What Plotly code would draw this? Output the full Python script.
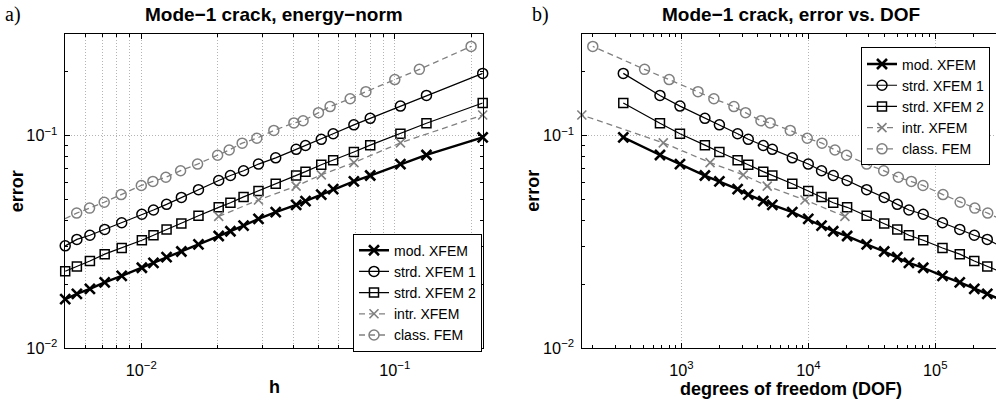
import plotly.graph_objects as go

# ---------------- data ----------------
series_names = ["mod. XFEM", "strd. XFEM 1", "strd. XFEM 2", "intr. XFEM", "class. FEM"]

# mesh sizes / DOFs shared by the XFEM variants (h ascending)
h_xfem = [0.00501, 0.00557, 0.00627, 0.00717, 0.00837, 0.01005, 0.01117, 0.01258,
          0.01439, 0.01681, 0.02020, 0.02247, 0.02532, 0.02899, 0.03390, 0.04082,
          0.04444, 0.05128, 0.05714, 0.06897, 0.08000, 0.10526, 0.13333, 0.22222]
dof_xfem = [322000, 257000, 203000, 156000, 114000, 80400, 62000, 50200,
            39600, 28800, 20200, 15700, 12700, 9980, 7470, 5200,
            4410, 3360, 2770, 1990, 1530, 973, 677, 348]

err_mod = [0.0170, 0.0180, 0.0190, 0.0204, 0.0219, 0.0239, 0.0252, 0.0268,
           0.0285, 0.0308, 0.0337, 0.0355, 0.0377, 0.0406, 0.0437, 0.0472,
           0.0492, 0.0528, 0.0560, 0.0609, 0.0649, 0.0735, 0.0811, 0.0982]
err_strd1 = [0.0303, 0.0325, 0.0340, 0.0362, 0.0389, 0.0427, 0.0447, 0.0475,
             0.0512, 0.0557, 0.0615, 0.0649, 0.0684, 0.0735, 0.0786, 0.0862,
             0.0899, 0.0961, 0.1021, 0.1124, 0.1206, 0.1377, 0.1546, 0.1963]
err_strd2 = [0.0230, 0.0242, 0.0257, 0.0277, 0.0296, 0.0322, 0.0340, 0.0362,
             0.0386, 0.0420, 0.0460, 0.0483, 0.0515, 0.0549, 0.0594, 0.0649,
             0.0677, 0.0730, 0.0766, 0.0838, 0.0902, 0.1021, 0.1143, 0.1424]

h_intr = [0.0202, 0.0290, 0.0408, 0.0513, 0.0690, 0.1053, 0.2222]
dof_intr = [19400, 9400, 4740, 3070, 1680, 719, 164]
err_intr = [0.0417, 0.0498, 0.0579, 0.0654, 0.0747, 0.0925, 0.1250]

h_fem = [0.00500, 0.00556, 0.00625, 0.00714, 0.00833, 0.01000, 0.01111, 0.01250,
         0.01429, 0.01667, 0.02000, 0.02222, 0.02500, 0.02857, 0.03333, 0.04000,
         0.04348, 0.05000, 0.05556, 0.06667, 0.07692, 0.10000, 0.12500, 0.20000]
dof_fem = [320000, 259000, 205000, 157000, 115000, 80000, 64800, 51200,
           39200, 28800, 20000, 16200, 12800, 9800, 7200, 5000,
           4230, 3200, 2590, 1800, 1350, 800, 512, 200]
err_fem = [0.0407, 0.0432, 0.0456, 0.0486, 0.0528, 0.0583, 0.0609, 0.0637,
           0.0684, 0.0735, 0.0809, 0.0856, 0.0922, 0.0972, 0.1058, 0.1148,
           0.1175, 0.1283, 0.1370, 0.1491, 0.1610, 0.1835, 0.2050, 0.2630]

# ---------------- styling ----------------
W, H = 996, 410
BLACK = "#000000"
GRAY = "#808080"
DASH = "6px,4px"
FONT = "Liberation Sans, Arial, Helvetica, sans-serif"

styles = [
    dict(color=BLACK, width=2.4, dash="solid", symbol="x-thin-open", size=10, mlw=2.6),
    dict(color=BLACK, width=1.2, dash="solid", symbol="circle-open", size=10, mlw=1.5),
    dict(color=BLACK, width=1.2, dash="solid", symbol="square-open", size=9, mlw=1.5),
    dict(color=GRAY, width=1.3, dash=DASH, symbol="x-thin-open", size=9, mlw=1.6),
    dict(color=GRAY, width=1.3, dash=DASH, symbol="circle-open", size=10, mlw=1.5),
]

left_data = [(h_xfem, err_mod), (h_xfem, err_strd1), (h_xfem, err_strd2),
             (h_intr, err_intr), (h_fem, err_fem)]
right_data = [(dof_xfem, err_mod), (dof_xfem, err_strd1), (dof_xfem, err_strd2),
              (dof_intr, err_intr), (dof_fem, err_fem)]

fig = go.Figure()

for (xs, ys), name, st in zip(left_data, series_names, styles):
    fig.add_trace(go.Scatter(
        x=xs, y=ys, name=name, mode="lines+markers",
        xaxis="x", yaxis="y", legend="legend", cliponaxis=False,
        line=dict(color=st["color"], width=st["width"], dash=st["dash"]),
        marker=dict(symbol=st["symbol"], size=st["size"], color=st["color"],
                    line=dict(color=st["color"], width=st["mlw"])),
    ))

for (xs, ys), name, st in zip(right_data, series_names, styles):
    fig.add_trace(go.Scatter(
        x=xs, y=ys, name=name, mode="lines+markers",
        xaxis="x2", yaxis="y2", legend="legend2", cliponaxis=False,
        line=dict(color=st["color"], width=st["width"], dash=st["dash"]),
        marker=dict(symbol=st["symbol"], size=st["size"], color=st["color"],
                    line=dict(color=st["color"], width=st["mlw"])),
    ))

# pixel geometry of the two axes boxes
L1, R1 = 65.0, 482.7
L2, R2 = 581.7, 996.0
TOP, BOT = 35.0, 356.0
px = lambda v: v / W
py = lambda v: 1 - v / H

grid_col = "#b4b4b4"
GDASH = "1px,2px"
tickfont = dict(family=FONT, size=13, color=BLACK)

common_axis = dict(
    type="log", showline=True, linecolor=BLACK, linewidth=1,
    ticks="inside", ticklen=5, tickwidth=1, tickcolor=BLACK,
    dtick=1, exponentformat="power", showexponent="all",
    tickfont=tickfont, zeroline=False,
    showgrid=True, gridcolor=grid_col, griddash=GDASH, gridwidth=1,
)

fig.update_layout(
    width=W, height=H,
    margin=dict(l=0, r=0, t=0, b=0),
    paper_bgcolor="white", plot_bgcolor="white",
    font=dict(family=FONT, color=BLACK),
    xaxis=dict(common_axis, domain=[px(L1), px(R1)], anchor="y", mirror="allticks",
               range=[-2.3010, -0.6532], ticklabelstandoff=8,
               minor=dict(dtick="D1", ticks="inside", ticklen=3, tickcolor=BLACK,
                          showgrid=True, gridcolor=grid_col, griddash=GDASH, gridwidth=1)),
    yaxis=dict(common_axis, domain=[py(BOT), py(TOP)], anchor="x", mirror="allticks",
               range=[-2.0, -0.5229], ticklabelstandoff=4,
               minor=dict(dtick="D1", ticks="inside", ticklen=3, tickcolor=BLACK, showgrid=False)),
    xaxis2=dict(common_axis, domain=[px(L2), px(R2)], anchor="y2", mirror="allticks",
                range=[2.2138, 5.4786], ticklabelstandoff=8,
                minor=dict(dtick="D1", ticks="inside", ticklen=3, tickcolor=BLACK, showgrid=False)),
    yaxis2=dict(common_axis, domain=[py(BOT), py(TOP)], anchor="x2", mirror=False,
                range=[-2.0, -0.5229], ticklabelstandoff=4,
                minor=dict(dtick="D1", ticks="inside", ticklen=3, tickcolor=BLACK, showgrid=False)),
    legend=dict(x=px(482.0), y=py(359.5), xanchor="right", yanchor="bottom",
                bgcolor="white", bordercolor=BLACK, borderwidth=1,
                font=dict(family=FONT, size=14, color=BLACK),
                tracegroupgap=0, itemwidth=30),
    legend2=dict(x=px(990.0), y=py(48.5), xanchor="right", yanchor="top",
                 bgcolor="white", bordercolor=BLACK, borderwidth=1,
                 font=dict(family=FONT, size=14, color=BLACK),
                 tracegroupgap=0, itemwidth=30),
    showlegend=True,
)

ann = []
serif = dict(family="Liberation Serif, Times New Roman, serif", size=20, color=BLACK)
bold = lambda s: dict(family=FONT, size=s, color=BLACK)
ann.append(dict(text="a)", x=px(3), y=py(15), xref="paper", yref="paper",
                xanchor="left", yanchor="middle", showarrow=False, font=serif))
ann.append(dict(text="b)", x=px(530), y=py(15), xref="paper", yref="paper",
                xanchor="left", yanchor="middle", showarrow=False, font=serif))
ann.append(dict(text="<b>Mode\u22121 crack, energy\u2212norm</b>", x=px((L1 + R1) / 2), y=py(15),
                xref="paper", yref="paper", xanchor="center", yanchor="middle",
                showarrow=False, font=bold(19)))
ann.append(dict(text="<b>Mode\u22121 crack, error vs. DOF</b>", x=px(790.5), y=py(15),
                xref="paper", yref="paper", xanchor="center", yanchor="middle",
                showarrow=False, font=bold(19)))
ann.append(dict(text="<b>error</b>", x=px(17), y=py((TOP + BOT) / 2), xref="paper", yref="paper",
                xanchor="center", yanchor="middle", textangle=-90, showarrow=False, font=bold(18)))
ann.append(dict(text="<b>error</b>", x=px(533.5), y=py((TOP + BOT) / 2), xref="paper", yref="paper",
                xanchor="center", yanchor="middle", textangle=-90, showarrow=False, font=bold(18)))
ann.append(dict(text="<b>h</b>", x=px(274), y=py(383), xref="paper", yref="paper",
                xanchor="center", yanchor="top", showarrow=False, font=bold(18)))
ann.append(dict(text="<b>degrees of freedom (DOF)</b>", x=px(790.5), y=py(385), xref="paper", yref="paper",
                xanchor="center", yanchor="top", showarrow=False, font=bold(18)))
fig.update_layout(annotations=ann)

fig.write_html("out.html")
